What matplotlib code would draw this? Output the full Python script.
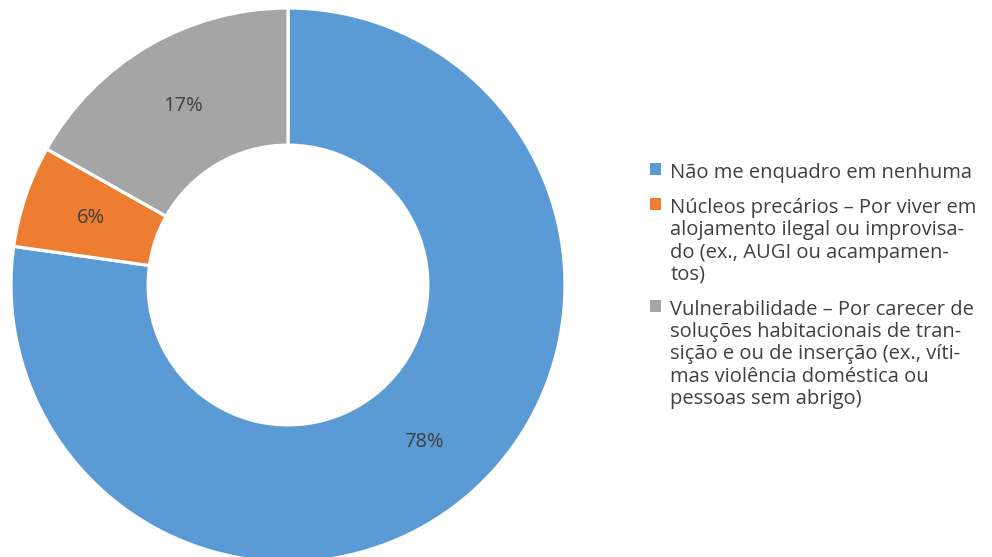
import matplotlib
matplotlib.use("Agg")
import matplotlib.pyplot as plt

categories = [
    "Não me enquadro em nenhuma",
    "Núcleos precários – Por viver em\nalojamento ilegal ou improvisa-\ndo (ex., AUGI ou acampamen-\ntos)",
    "Vulnerabilidade – Por carecer de\nsoluções habitacionais de tran-\nsição e ou de inserção (ex., víti-\nmas violência doméstica ou\npessoas sem abrigo)",
]
values = [78, 6, 17]
pct_labels = ["78%", "6%", "17%"]
colors = ["#5B9BD5", "#ED7D31", "#A5A5A5"]

plt.rcParams['font.family'] = ['Open Sans', 'DejaVu Sans']
text_color = "#404040"

fig = plt.figure(figsize=(9.92, 5.57), dpi=100)
ax = fig.add_axes([0, 0, 1, 1])
ax.set_axis_off()

wedges, _, autotexts = ax.pie(
    values, colors=colors, startangle=90, counterclock=False,
    radius=1.0, autopct="%1.0f%%", pctdistance=0.75,
    wedgeprops=dict(width=0.495, edgecolor="white", linewidth=2.3),
    textprops=dict(color=text_color, fontsize=14.5),
)
for t, s in zip(autotexts, pct_labels):
    t.set_text(s)

# map pixel layout: center (288,285), radius 277 px
ax.set_xlim(-288 / 277, (992 - 288) / 277)
ax.set_ylim((285 - 557) / 277, 285 / 277)
ax.set_aspect("auto")

leg = ax.legend(
    wedges, categories, loc="upper left",
    bbox_to_anchor=(650 / 992, 1 - 163 / 557), bbox_transform=fig.transFigure,
    frameon=False, fontsize=14.5, handlelength=0.55, handleheight=0.55,
    handletextpad=0.45, labelspacing=0.75, borderaxespad=0, borderpad=0,
)
for txt in leg.get_texts():
    txt.set_color(text_color)
    txt.set_linespacing(1.15)
for h in leg.legend_handles:
    h.set_edgecolor("none")
for col in leg._legend_handle_box.get_children():
    for row in col.get_children():
        row.align = "top"
        row.get_children()[0].set_offset((0, -5))

fig.savefig("out.png", dpi=100)
